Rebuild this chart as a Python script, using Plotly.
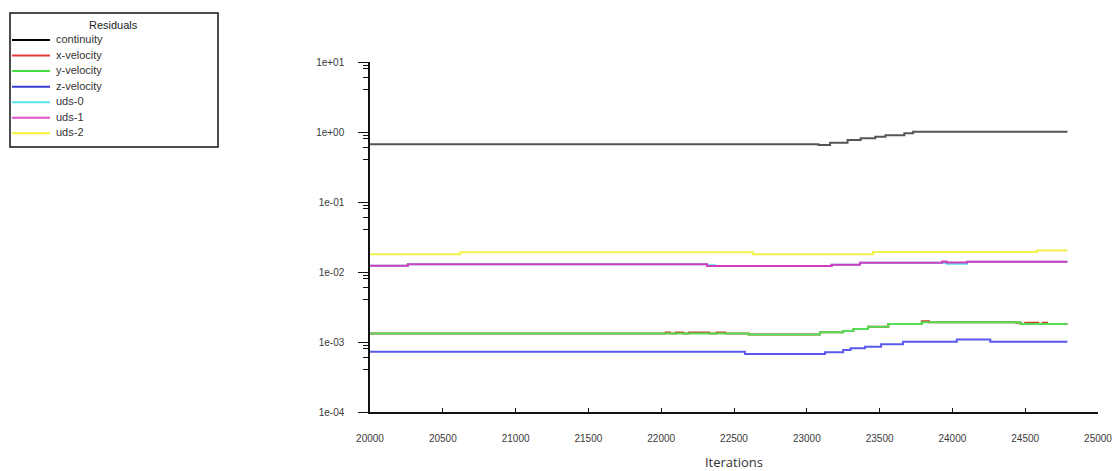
import plotly.graph_objects as go

# Residual histories (iteration breakpoints, residual levels held until next breakpoint)
continuity_iter = [20000, 23080, 23160, 23280, 23370, 23470, 23540, 23670, 23730, 24790]
continuity_res = [0.667, 0.652, 0.703, 0.769, 0.813, 0.857, 0.897, 0.958, 1.01, 1.01]

x_vel_iter = [20000, 22030, 22060, 22100, 22150, 22190, 22330, 22380, 22440, 22600,
              23090, 23250, 23320, 23420, 23560, 23790, 23840, 24440, 24470, 24500,
              24590, 24620, 24650, 24790]
x_vel_res = [1.32e-3, 1.37e-3, 1.32e-3, 1.37e-3, 1.32e-3, 1.37e-3, 1.32e-3, 1.37e-3, 1.32e-3, 1.28e-3,
             1.38e-3, 1.44e-3, 1.53e-3, 1.65e-3, 1.81e-3, 1.98e-3, 1.91e-3, 1.88e-3, 1.81e-3, 1.88e-3,
             1.81e-3, 1.88e-3, 1.81e-3, 1.81e-3]

y_vel_iter = [20000, 22600, 23090, 23250, 23320, 23420, 23560, 23790, 24465, 24790]
y_vel_res = [1.32e-3, 1.28e-3, 1.38e-3, 1.44e-3, 1.53e-3, 1.65e-3, 1.81e-3, 1.91e-3, 1.81e-3, 1.81e-3]

z_vel_iter = [20000, 22575, 23125, 23250, 23300, 23400, 23510, 23660, 24030, 24260, 24790]
z_vel_res = [0.727e-3, 0.674e-3, 0.713e-3, 0.769e-3, 0.813e-3, 0.857e-3, 0.927e-3, 1.01e-3, 1.09e-3, 1.01e-3, 1.01e-3]

uds0_iter = [20000, 20260, 22315, 22370, 23170, 23365, 23960, 24100, 24790]
uds0_res = [1.23e-2, 1.29e-2, 1.25e-2, 1.22e-2, 1.27e-2, 1.36e-2, 1.31e-2, 1.40e-2, 1.40e-2]

uds1_iter = [20000, 20260, 22315, 23170, 23365, 23930, 23960, 24100, 24790]
uds1_res = [1.23e-2, 1.29e-2, 1.22e-2, 1.27e-2, 1.36e-2, 1.41e-2, 1.37e-2, 1.40e-2, 1.40e-2]

uds2_iter = [20000, 20620, 22630, 23455, 24580, 24790]
uds2_res = [1.79e-2, 1.91e-2, 1.79e-2, 1.93e-2, 2.03e-2, 2.03e-2]

series_names = ["continuity", "x-velocity", "y-velocity", "z-velocity", "uds-0", "uds-1", "uds-2"]
series_iters = [continuity_iter, x_vel_iter, y_vel_iter, z_vel_iter, uds0_iter, uds1_iter, uds2_iter]
series_vals = [continuity_res, x_vel_res, y_vel_res, z_vel_res, uds0_res, uds1_res, uds2_res]
series_colors = ["#555555", "#c8402a", "#55dd55", "#5a5aee", "#55e4ec", "#d03cc0", "#f2f24a"]
legend_colors = ["#000000", "#e23a3a", "#44dd44", "#3a3ad0", "#55e4ec", "#e050c8", "#f2f230"]

y_tick_vals = [1e-4, 1e-3, 1e-2, 1e-1, 1e0, 1e1]
y_tick_text = ["1e-04", "1e-03", "1e-02", "1e-01", "1e+00", "1e+01"]

W, H = 1113, 471
L, R, T, B = 370, 15, 62, 59
PW, PH = W - L - R, H - T - B

fig = go.Figure()
for name, it, val, col in zip(series_names, series_iters, series_vals, series_colors):
    fig.add_trace(go.Scatter(x=it, y=val, mode="lines", name=name,
                             line=dict(color=col, width=2, shape="hv"),
                             showlegend=False))

# minor ticks beneath each decade
minor_vals = []
for k in range(-3, 2):
    for f in (0.9, 0.8, 0.6, 0.4):
        minor_vals.append(f * 10 ** k)

fig.update_layout(
    width=W, height=H, autosize=False,
    margin=dict(l=L, r=R, t=T, b=B, pad=0),
    paper_bgcolor="white", plot_bgcolor="white",
    font=dict(family="Liberation Sans, Arial, sans-serif", color="#333333"),
    xaxis=dict(range=[20000, 25000], dtick=500, tick0=20000, tickformat="d",
               showgrid=False, zeroline=False, automargin=False,
               showline=True, linecolor="#111111", linewidth=1.5,
               ticks="inside", ticklen=4, tickcolor="#111111", tickwidth=1,
               tickfont=dict(size=10, color="#3a3a3a"), ticklabelstandoff=16,
               title=dict(text="Iterations", font=dict(size=13, color="#333333",
                                                        family="Open Sans, sans-serif"),
                          standoff=17)),
    yaxis=dict(type="log", range=[-4, 1], tickvals=y_tick_vals, ticktext=y_tick_text,
               showgrid=False, zeroline=False, automargin=False,
               showline=True, linecolor="#111111", linewidth=1.5,
               ticks="outside", ticklen=10, tickcolor="#111111", tickwidth=1,
               tickfont=dict(size=10, color="#3a3a3a"), ticklabelstandoff=12,
               minor=dict(tickvals=minor_vals, ticks="outside", ticklen=5,
                          tickcolor="#111111", tickwidth=1, showgrid=False)),
)

# Legend box drawn in pixel positions converted to paper coordinates
def px(xp):
    return (xp - L) / PW

def py(yp):
    return (H - B - yp) / PH

fig.add_shape(type="rect", xref="paper", yref="paper",
              x0=px(10), x1=px(218), y0=py(147), y1=py(13),
              line=dict(color="#111111", width=1.5), fillcolor="white", layer="above")
fig.add_annotation(xref="paper", yref="paper", x=px(113), y=py(25), text="Residuals",
                   showarrow=False, xanchor="center", yanchor="middle",
                   font=dict(size=11, color="#222222"))
for i, (name, col) in enumerate(zip(series_names, legend_colors)):
    yy = 40 + 15.55 * i
    fig.add_shape(type="line", xref="paper", yref="paper",
                  x0=px(12), x1=px(50), y0=py(yy), y1=py(yy),
                  line=dict(color=col, width=2), layer="above")
    fig.add_annotation(xref="paper", yref="paper", x=px(54), y=py(yy - 1), text=name,
                       showarrow=False, xanchor="left", yanchor="middle",
                       font=dict(size=11, color="#333333"))

fig.write_html("out.html")
